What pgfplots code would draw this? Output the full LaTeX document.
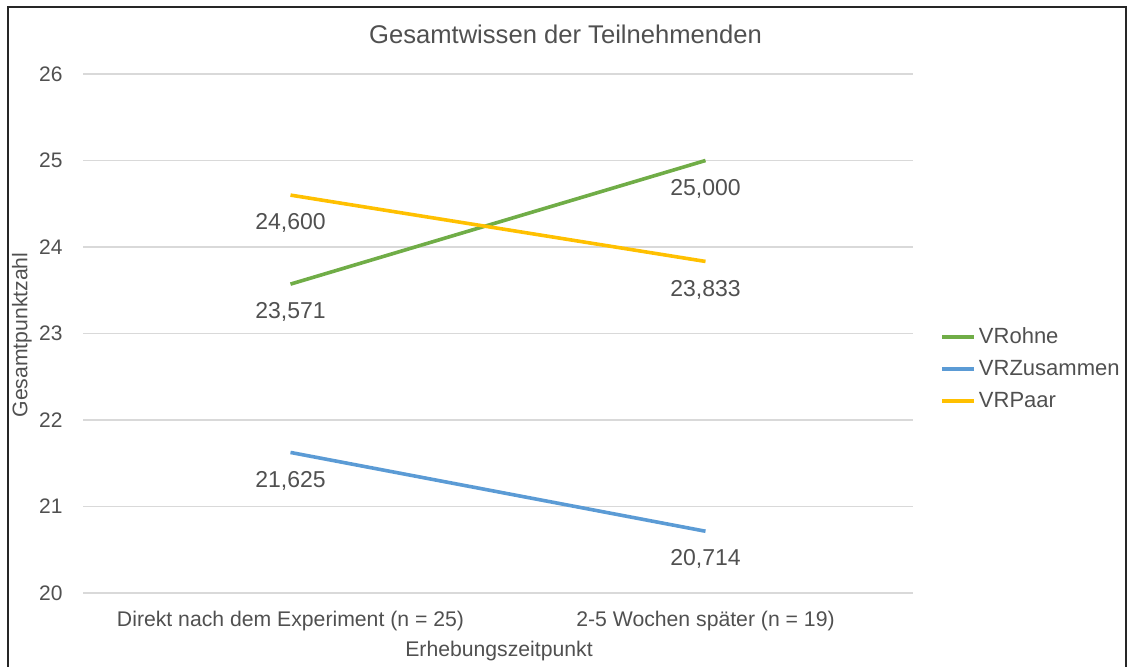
\documentclass[border=0pt]{standalone}
\usepackage{pgfplots}
\pgfplotsset{compat=1.18}
\usepackage{fontspec}
\setmainfont{Liberation Sans}
\definecolor{txt}{HTML}{505050}
\definecolor{cgreen}{HTML}{70AD47}
\definecolor{cblue}{HTML}{5B9BD5}
\definecolor{cyellow}{HTML}{FFC000}
\definecolor{gridc}{HTML}{D9D9D9}
\begin{document}
\begin{tikzpicture}
\useasboundingbox (0,0) rectangle (566.5pt,-333.5pt);
\clip (0,0) rectangle (566.5pt,-333.5pt);
\draw[line width=1pt, black!85] (4pt,-3.5pt) rectangle (563pt,-350pt);
\node[anchor=base, inner sep=0pt, font=\fontsize{12.8}{14}\selectfont, text=txt] at (282.75pt,-22pt) {Gesamtwissen der Teilnehmenden};
\node[anchor=base, inner sep=0pt, font=\fontsize{10.6}{12}\selectfont, text=txt] at (249.5pt,-328pt) {Erhebungszeitpunkt};
\node[rotate=90, inner sep=0pt, font=\fontsize{10.6}{12}\selectfont, text=txt] at (11pt,-167.5pt) {Gesamtpunktzahl};
\begin{axis}[
  at={(41.5pt,-296.5pt)}, anchor=south west,
  scale only axis, width=415pt, height=259.5pt,
  xmin=-0.5, xmax=1.5, ymin=20, ymax=26,
  ytick={20,21,...,26}, xtick={0,1},
  xticklabels={Direkt nach dem Experiment (n = 25), 2-5 Wochen später (n = 19)},
  axis line style={draw=none},
  major tick length=0pt,
  ymajorgrids, grid style={color=gridc, line width=0.7pt},
  /pgf/number format/assume math mode=true,
  yticklabel style={inner sep=0pt, anchor=east, xshift=-10pt, font=\fontsize{10.5}{12}\selectfont, text=txt},
  xticklabel style={inner sep=0pt, anchor=north, yshift=-9pt, font=\fontsize{10.6}{12}\selectfont, text=txt},
  legend style={at={(1.0325,0.4316)}, anchor=west, draw=none, fill=none,
    font=\fontsize{11}{13}\selectfont, text=txt, row sep=2pt, inner sep=0pt,
    nodes={inner sep=1.5pt, text height=8.5pt, text depth=2.5pt}},
  legend cell align=left,
  legend image code/.code={\draw[#1] (0pt,0pt) -- (16pt,0pt);},
  every axis plot/.append style={line width=1.8pt, mark=none},
  nodes near coords,
  point meta=explicit symbolic,
  every node near coord/.append style={anchor=center, yshift=-14pt, font=\fontsize{11.5}{13}\selectfont, text=txt},
]
\addplot[color=cgreen] table[x=x, y=y, meta=lab] {
x y lab
0 23.571 23,571
1 25.000 25,000
};
\addlegendentry{VRohne}
\addplot[color=cblue] table[x=x, y=y, meta=lab] {
x y lab
0 21.625 21,625
1 20.714 20,714
};
\addlegendentry{VRZusammen}
\addplot[color=cyellow] table[x=x, y=y, meta=lab] {
x y lab
0 24.600 24,600
1 23.833 23,833
};
\addlegendentry{VRPaar}
\end{axis}
\end{tikzpicture}
\end{document}
